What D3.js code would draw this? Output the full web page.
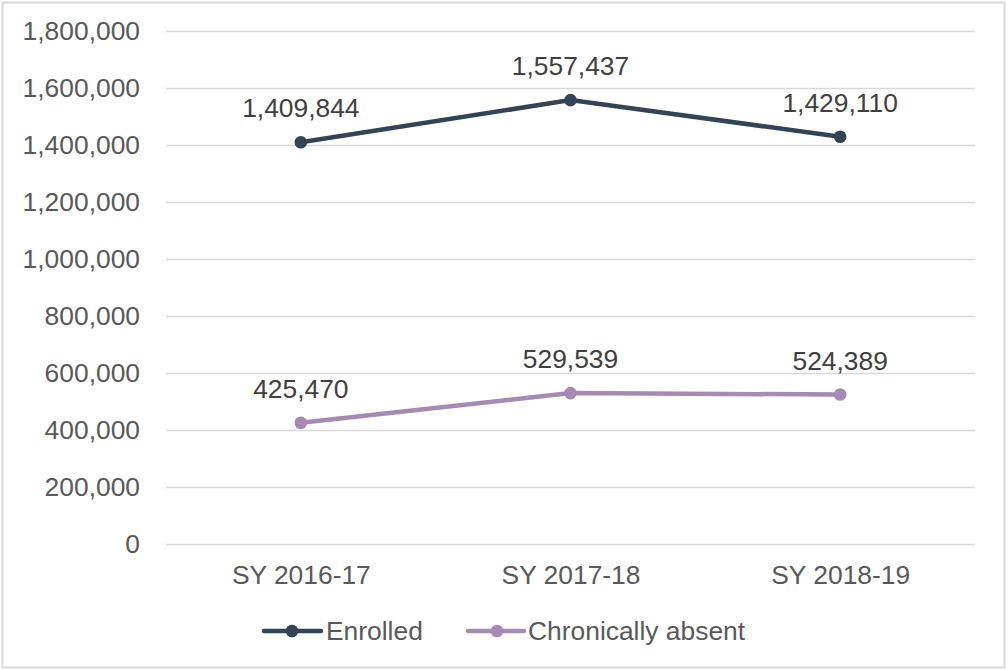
<!DOCTYPE html>
<html><head><meta charset="utf-8">
<script src="https://cdn.jsdelivr.net/npm/d3@7"></script>
<style>
html,body{margin:0;padding:0;background:#fff;}
svg{display:block;font-family:"Liberation Sans",Arial,sans-serif;}
</style></head>
<body><svg id="c" width="1008" height="670"></svg>
<script>
const categories = ["SY 2016-17", "SY 2017-18", "SY 2018-19"];
const enrolled = [1409844, 1557437, 1429110];
const chronicallyAbsent = [425470, 529539, 524389];
const yTicks = [0, 200000, 400000, 600000, 800000, 1000000, 1200000, 1400000, 1600000, 1800000];
const seriesNames = ["Enrolled", "Chronically absent"];
const seriesColors = ["#334457", "#a58bb3"];

(function () {
const FS = "26.4px";
const svg = d3.select("#c");
svg.append("rect").attr("x", 2.5).attr("y", 2.5).attr("width", 1002).attr("height", 665)
  .attr("fill", "#fff").attr("stroke", "#d9d9d9").attr("stroke-width", 2);

const pLeft = 166, pRight = 975, pTop = 31, pBottom = 544;
const x = d3.scalePoint().domain(categories).range([pLeft, pRight]).padding(0.5);
const y = d3.scaleLinear().domain([0, 1800000]).range([pBottom, pTop]);
const fmt = d3.format(",");

svg.append("g").selectAll("line").data(yTicks).join("line")
  .attr("x1", pLeft).attr("x2", pRight)
  .attr("y1", d => Math.round(y(d)) + 0.5).attr("y2", d => Math.round(y(d)) + 0.5)
  .attr("stroke", "#d9d9d9").attr("stroke-width", 1.3);

const yAxis = d3.axisLeft(y).tickValues(yTicks).tickFormat(fmt).tickSize(0).tickPadding(0);
const gy = svg.append("g").attr("transform", "translate(140,0)").call(yAxis);
gy.select(".domain").remove();
gy.selectAll("text").attr("fill", "#595959").attr("font-size", FS)
  .attr("font-family", "'Liberation Sans',Arial,sans-serif");

const xAxis = d3.axisBottom(x).tickSize(0).tickPadding(0);
const gx = svg.append("g").attr("transform", "translate(0,565)").call(xAxis);
gx.select(".domain").remove();
gx.selectAll("text").attr("fill", "#595959").attr("font-size", FS)
  .attr("font-family", "'Liberation Sans',Arial,sans-serif");

const series = [enrolled, chronicallyAbsent];
const line = d3.line().x((d, i) => x(categories[i])).y(d => y(d));
series.forEach((vals, si) => {
  const g = svg.append("g");
  g.append("path").datum(vals).attr("d", line).attr("fill", "none")
    .attr("stroke", seriesColors[si]).attr("stroke-width", 4.5).attr("stroke-linecap", "round");
  g.selectAll("circle").data(vals).join("circle")
    .attr("cx", (d, i) => x(categories[i])).attr("cy", d => y(d)).attr("r", 6.3)
    .attr("fill", seriesColors[si]);
  g.selectAll("text").data(vals).join("text")
    .attr("x", (d, i) => x(categories[i])).attr("y", d => y(d) - 25)
    .attr("text-anchor", "middle").attr("fill", "#404040").attr("font-size", FS)
    .text(d => fmt(d));
});

const legendItems = [{x0: 264, x1: 321, m: 292, tx: 326}, {x0: 468, x1: 524, m: 497, tx: 528}];
legendItems.forEach((it, i) => {
  const g = svg.append("g").attr("transform", "translate(0,631)");
  g.append("line").attr("x1", it.x0).attr("x2", it.x1).attr("y1", 0).attr("y2", 0)
    .attr("stroke", seriesColors[i]).attr("stroke-width", 4.5).attr("stroke-linecap", "round");
  g.append("circle").attr("cx", it.m).attr("cy", 0).attr("r", 6.3).attr("fill", seriesColors[i]);
  g.append("text").attr("x", it.tx).attr("y", 9).attr("fill", "#595959")
    .attr("font-size", FS).text(seriesNames[i]);
});
})();
</script></body></html>
